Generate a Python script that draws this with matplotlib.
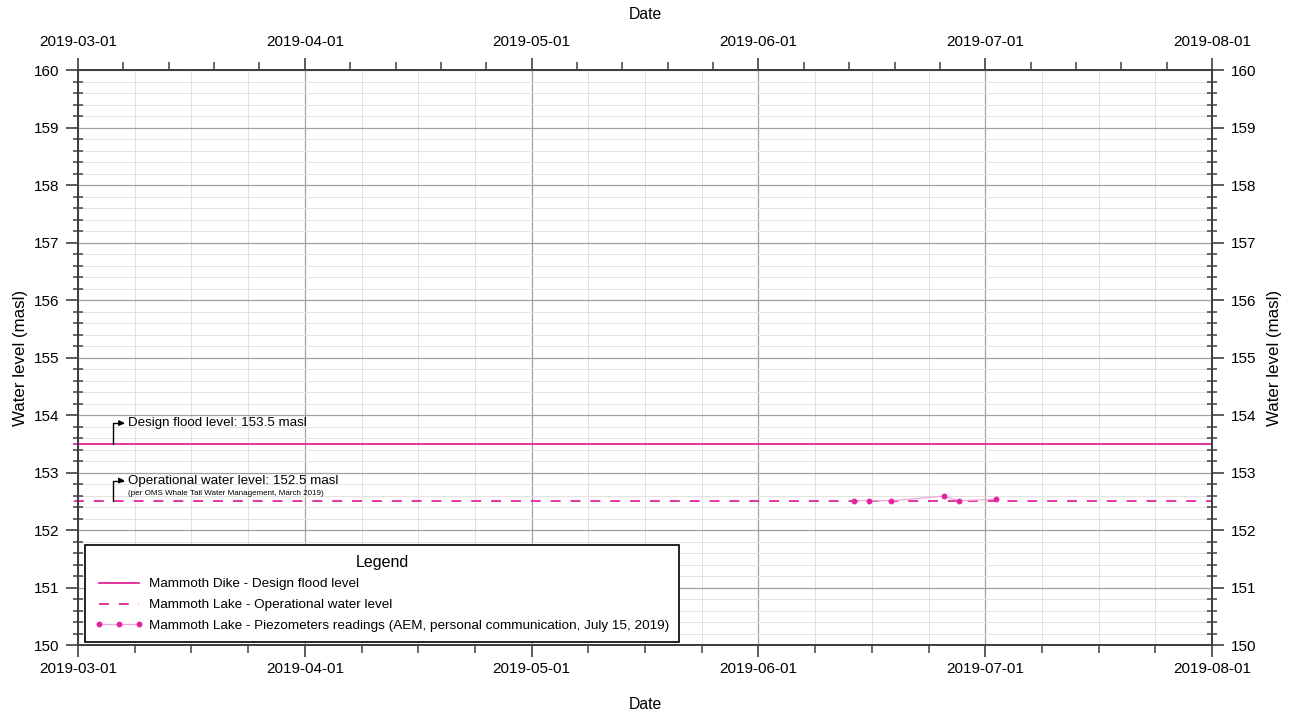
import numpy as np
import pandas as pd
import matplotlib
matplotlib.use('Agg')
import matplotlib.pyplot as plt
import matplotlib.dates as mdates
from matplotlib.ticker import FixedLocator, MultipleLocator

plt.rcParams['font.family'] = ['Liberation Sans', 'DejaVu Sans']

# data
design_level = 153.5
operational_level = 152.5
line_start = '2019-02-28 12:00'
line_end = '2019-08-01 00:00'
piezo_dates = ['2019-06-13 16:00', '2019-06-15 16:00', '2019-06-18 14:00',
               '2019-06-25 12:00', '2019-06-27 12:00', '2019-07-02 12:00']
piezo_levels = [152.51, 152.51, 152.51, 152.59, 152.51, 152.535]
month_ticks = ['2019-03-01', '2019-04-01', '2019-05-01', '2019-06-01', '2019-07-01', '2019-08-01']

pink = '#E2259B'
pink_light = '#F2A6D4'
spine_c = '#404040'

fig = plt.figure(figsize=(12.89, 7.11), dpi=100)
ax = fig.add_axes([0.0605, 0.0928, 0.8798, 0.8087])

months = mdates.date2num(pd.to_datetime(month_ticks))
idx = np.arange(len(months), dtype=float)
x0, x1 = months[0], months[-1]


# months drawn with equal width, as in the source chart
def fwd(d):
    d = np.asarray(d, dtype=float)
    out = np.interp(d, months, idx)
    out = np.where(d < months[0], (d - months[0]) / 31.0, out)
    out = np.where(d > months[-1], idx[-1] + (d - months[-1]) / 31.0, out)
    return out


def inv(m):
    m = np.asarray(m, dtype=float)
    out = np.interp(m, idx, months)
    out = np.where(m < 0, months[0] + m * 31.0, out)
    out = np.where(m > idx[-1], months[-1] + (m - idx[-1]) * 31.0, out)
    return out


ax.set_xscale('function', functions=(fwd, inv))

lines_x = mdates.date2num(pd.to_datetime([line_start, line_end]))
ax.plot(lines_x, [design_level] * 2, color=pink, lw=1.3, clip_on=False,
        label='Mammoth Dike - Design flood level', zorder=3)
ax.plot(lines_x, [operational_level] * 2, color=pink, lw=1.3, dashes=(5.5, 5.5), clip_on=False,
        label='Mammoth Lake - Operational water level', zorder=3)
px = mdates.date2num(pd.to_datetime(piezo_dates))
ax.plot(px, piezo_levels, color=pink_light, lw=0.9, marker='o', ms=3.2,
        mfc=pink, mec=pink, zorder=4,
        label='Mammoth Lake - Piezometers readings (AEM, personal communication, July 15, 2019)')

ax.set_xlim(x0, x1)
ax.set_ylim(150, 160)

# bottom minor: quarter months, top minor: fifths of months
minor_bot, minor_top = [], []
for a, b in zip(months[:-1], months[1:]):
    minor_bot += list(a + (b - a) * np.arange(1, 4) / 4)
    minor_top += list(a + (b - a) * np.arange(1, 5) / 5)

ax.xaxis.set_major_locator(FixedLocator(months))
ax.xaxis.set_minor_locator(FixedLocator(minor_bot))
ax.set_xticklabels(month_ticks)
ax.yaxis.set_major_locator(MultipleLocator(1))
ax.yaxis.set_minor_locator(MultipleLocator(0.2))

ax.grid(which='major', color='#a0a0a0', lw=0.9)
ax.grid(which='minor', color='#e2e2e2', lw=0.7)
ax.set_axisbelow(True)

ax.set_xlabel('Date', fontsize=11.3, labelpad=15)
ax.set_ylabel('Water level (masl)', fontsize=12.2, labelpad=4)

ax_t = ax.twiny()
ax_t.set_xscale('function', functions=(fwd, inv))
ax_t.set_xlim(x0, x1)
ax_t.xaxis.set_major_locator(FixedLocator(months))
ax_t.xaxis.set_minor_locator(FixedLocator(minor_top))
ax_t.set_xticklabels(month_ticks)
ax_t.set_xlabel('Date', fontsize=11.3, labelpad=11)

ax_r = ax.twinx()
ax_r.set_ylim(150, 160)
ax_r.yaxis.set_major_locator(MultipleLocator(1))
ax_r.yaxis.set_minor_locator(MultipleLocator(0.2))
ax_r.set_ylabel('Water level (masl)', fontsize=12.2, labelpad=8)

for a in (ax, ax_t, ax_r):
    for s in a.spines.values():
        s.set_color(spine_c)
        s.set_linewidth(1.4)
    a.tick_params(which='major', direction='out', length=8.5, width=1.2, color=spine_c,
                  labelsize=11, pad=5)
    a.tick_params(which='minor', direction='out', length=6, width=1.1, color=spine_c)
ax.tick_params(axis='y', which='minor', direction='inout', length=7)
ax_r.tick_params(axis='y', which='minor', direction='inout', length=7)
ax.tick_params(axis='x', which='major', pad=4)
ax_t.tick_params(axis='x', which='major', pad=7)

# annotations
def callout(y_line, y_text, text):
    xb = x0 + 4.78
    xt = x0 + 6.4
    ax.annotate('', xy=(xt, y_text), xytext=(xb, y_line),
                arrowprops=dict(arrowstyle='-|>', color='black', lw=1.0,
                                connectionstyle='angle,angleA=90,angleB=0,rad=0',
                                shrinkA=0, shrinkB=0, mutation_scale=8), zorder=5)
    ax.text(x0 + 6.8, y_text, text, fontsize=9.6, va='center', ha='left', zorder=5)

callout(design_level, 153.86, 'Design flood level: 153.5 masl')
callout(operational_level, 152.86, 'Operational water level: 152.5 masl')
ax.text(x0 + 6.8, 152.63, '(per OMS Whale Tail Water Management, March 2019)',
        fontsize=5.75, va='center', ha='left')

leg = ax.legend(loc='lower left', bbox_to_anchor=(0.006, 0.005), borderaxespad=0,
                title='Legend', fontsize=9.7, title_fontsize=11.5, fancybox=False,
                edgecolor='black', framealpha=1, handlelength=3.6, handletextpad=0.4,
                borderpad=0.75, labelspacing=0.62, numpoints=3)
leg.get_frame().set_linewidth(1.2)
leg.set_zorder(10)

fig.savefig('out.png', dpi=100)
